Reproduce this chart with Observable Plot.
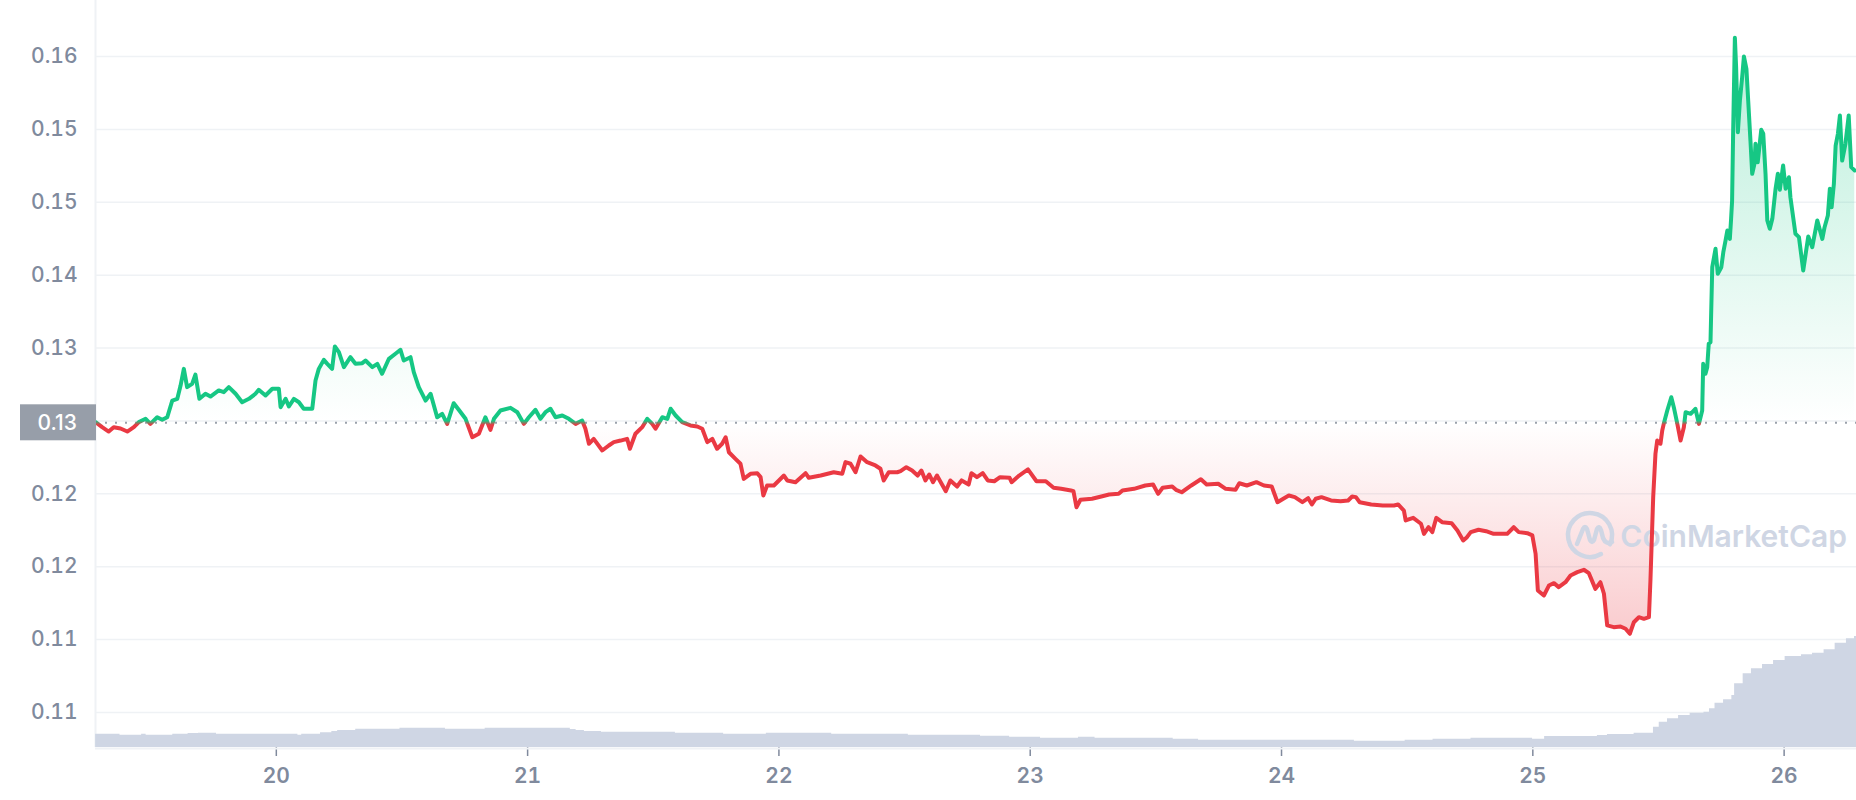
<!DOCTYPE html>
<html>
<head>
<meta charset="utf-8">
<script src="https://cdn.jsdelivr.net/npm/d3@7"></script>
<script src="https://cdn.jsdelivr.net/npm/@observablehq/plot@0.6"></script>
<style>
html, body { margin: 0; padding: 0; background: #fff; }
#chart { position: relative; width: 1856px; height: 800px; }
#chart svg { position: absolute; left: 0; top: 0; }
</style>
</head>
<body>
<div id="chart"></div>
<script>
// ---- data (day of month, price in USD) ----
const times = [19.281,19.307,19.333,19.353,19.380,19.407,19.433,19.453,19.480,19.499,19.526,19.546,19.566,19.586,19.606,19.619,19.632,19.645,19.665,19.678,19.694,19.718,19.738,19.771,19.791,19.811,19.838,19.864,19.891,19.917,19.930,19.957,19.984,20.010,20.017,20.037,20.050,20.070,20.090,20.109,20.143,20.156,20.169,20.189,20.203,20.222,20.233,20.249,20.269,20.295,20.315,20.342,20.355,20.382,20.402,20.421,20.448,20.474,20.494,20.507,20.534,20.547,20.567,20.594,20.614,20.640,20.660,20.680,20.706,20.726,20.753,20.780,20.806,20.832,20.852,20.866,20.892,20.932,20.959,20.985,21.005,21.031,21.051,21.071,21.091,21.111,21.138,21.164,21.191,21.217,21.230,21.244,21.263,21.297,21.323,21.343,21.370,21.396,21.407,21.429,21.456,21.476,21.496,21.509,21.536,21.556,21.569,21.589,21.615,21.648,21.675,21.695,21.715,21.735,21.754,21.774,21.788,21.801,21.827,21.847,21.860,21.887,21.914,21.927,21.938,21.953,21.980,22.020,22.033,22.066,22.106,22.119,22.166,22.218,22.252,22.265,22.285,22.305,22.325,22.351,22.384,22.404,22.417,22.437,22.471,22.484,22.507,22.530,22.552,22.567,22.583,22.598,22.613,22.629,22.664,22.682,22.709,22.727,22.755,22.766,22.788,22.811,22.831,22.857,22.880,22.918,22.926,22.956,22.991,23.025,23.062,23.093,23.123,23.162,23.172,23.184,23.200,23.246,23.283,23.314,23.352,23.367,23.413,23.458,23.489,23.509,23.527,23.565,23.580,23.603,23.641,23.679,23.702,23.748,23.778,23.817,23.832,23.862,23.900,23.930,23.961,23.984,24.007,24.029,24.053,24.083,24.106,24.121,24.136,24.159,24.197,24.235,24.265,24.281,24.296,24.311,24.357,24.403,24.448,24.464,24.487,24.494,24.524,24.555,24.567,24.585,24.600,24.616,24.639,24.677,24.700,24.723,24.738,24.753,24.784,24.814,24.844,24.871,24.898,24.924,24.944,24.978,24.998,25.011,25.020,25.044,25.064,25.084,25.103,25.130,25.150,25.177,25.203,25.223,25.249,25.269,25.283,25.296,25.322,25.349,25.369,25.386,25.402,25.422,25.442,25.462,25.468,25.479,25.488,25.495,25.508,25.515,25.521,25.535,25.551,25.561,25.575,25.588,25.601,25.608,25.628,25.647,25.661,25.674,25.678,25.687,25.694,25.700,25.707,25.714,25.727,25.736,25.750,25.758,25.767,25.774,25.784,25.789,25.793,25.797,25.804,25.809,25.816,25.824,25.833,25.840,25.850,25.857,25.866,25.873,25.882,25.886,25.895,25.909,25.917,25.926,25.933,25.943,25.953,25.966,25.975,25.983,25.996,26.006,26.019,26.025,26.045,26.059,26.076,26.096,26.112,26.132,26.152,26.161,26.174,26.182,26.189,26.198,26.205,26.214,26.222,26.231,26.244,26.257,26.267,26.281];
const prices = [0.12891,0.12853,0.12820,0.12853,0.12843,0.12820,0.12853,0.12891,0.12916,0.12878,0.12928,0.12909,0.12928,0.13054,0.13067,0.13167,0.13293,0.13155,0.13180,0.13250,0.13067,0.13105,0.13084,0.13130,0.13117,0.13155,0.13105,0.13041,0.13067,0.13105,0.13135,0.13092,0.13143,0.13143,0.13004,0.13067,0.13009,0.13067,0.13041,0.12992,0.12992,0.13205,0.13293,0.13361,0.13331,0.13293,0.13462,0.13419,0.13306,0.13381,0.13331,0.13336,0.13356,0.13306,0.13331,0.13256,0.13369,0.13407,0.13437,0.13356,0.13381,0.13268,0.13155,0.13054,0.13105,0.12928,0.12954,0.12878,0.13034,0.12984,0.12916,0.12777,0.12803,0.12928,0.12833,0.12916,0.12979,0.12999,0.12966,0.12878,0.12928,0.12984,0.12916,0.12966,0.12992,0.12928,0.12941,0.12916,0.12878,0.12903,0.12841,0.12728,0.12765,0.12677,0.12715,0.12740,0.12752,0.12765,0.12690,0.12803,0.12853,0.12916,0.12878,0.12841,0.12928,0.12916,0.12992,0.12941,0.12891,0.12866,0.12858,0.12841,0.12740,0.12765,0.12690,0.12728,0.12777,0.12664,0.12614,0.12577,0.12463,0.12501,0.12506,0.12476,0.12337,0.12413,0.12413,0.12488,0.12451,0.12438,0.12506,0.12471,0.12488,0.12513,0.12501,0.12589,0.12577,0.12513,0.12632,0.12589,0.12564,0.12539,0.12451,0.12513,0.12513,0.12521,0.12551,0.12526,0.12488,0.12526,0.12451,0.12496,0.12438,0.12488,0.12370,0.12451,0.12405,0.12451,0.12420,0.12506,0.12476,0.12506,0.12451,0.12445,0.12476,0.12471,0.12438,0.12488,0.12534,0.12445,0.12445,0.12396,0.12388,0.12375,0.12370,0.12249,0.12305,0.12313,0.12330,0.12345,0.12350,0.12375,0.12388,0.12413,0.12420,0.12350,0.12396,0.12405,0.12380,0.12362,0.12413,0.12460,0.12420,0.12426,0.12388,0.12380,0.12430,0.12413,0.12438,0.12413,0.12405,0.12287,0.12313,0.12337,0.12325,0.12287,0.12317,0.12270,0.12313,0.12325,0.12300,0.12294,0.12300,0.12330,0.12325,0.12287,0.12270,0.12262,0.12262,0.12270,0.12224,0.12149,0.12169,0.12124,0.12048,0.12098,0.12061,0.12169,0.12136,0.12128,0.12073,0.11998,0.12023,0.12061,0.12079,0.12068,0.12048,0.12048,0.12048,0.12098,0.12061,0.12053,0.12036,0.11898,0.11621,0.11583,0.11658,0.11676,0.11646,0.11683,0.11734,0.11759,0.11777,0.11751,0.11633,0.11683,0.11596,0.11357,0.11344,0.11349,0.11332,0.11294,0.11381,0.11419,0.11407,0.11419,0.11696,0.12325,0.12652,0.12752,0.12728,0.12828,0.12878,0.12979,0.13079,0.13004,0.12878,0.12752,0.12853,0.12966,0.12954,0.12992,0.12878,0.12979,0.13331,0.13256,0.13306,0.13482,0.13494,0.14060,0.14199,0.14010,0.14060,0.14173,0.14262,0.14337,0.14274,0.14425,0.14563,0.15067,0.15791,0.15569,0.15079,0.15318,0.15494,0.15650,0.15557,0.15318,0.15016,0.14765,0.14840,0.14991,0.14852,0.15097,0.15067,0.14765,0.14413,0.14350,0.14425,0.14652,0.14765,0.14644,0.14828,0.14652,0.14739,0.14588,0.14312,0.14287,0.14035,0.14292,0.14211,0.14413,0.14274,0.14362,0.14450,0.14652,0.14513,0.14689,0.14978,0.15067,0.15205,0.14865,0.14991,0.15205,0.14815,0.14790];

// 24h volume (millions), step series
const volTimes = [19.281,19.378,19.464,19.482,19.588,19.649,19.690,19.762,20.086,20.101,20.176,20.221,20.244,20.316,20.492,20.673,20.831,21.170,21.193,21.226,21.294,21.588,21.780,21.950,22.210,22.515,22.802,22.918,23.041,23.192,23.258,23.569,23.670,24.290,24.492,24.603,24.754,24.999,25.047,25.257,25.297,25.403,25.480,25.503,25.536,25.580,25.626,25.681,25.703,25.725,25.759,25.792,25.803,25.837,25.870,25.914,25.958,26.004,26.069,26.113,26.159,26.203,26.248,26.280,26.288];
const volumes = [6.65,6.15,6.65,6.15,6.65,7.0,7.15,6.65,6.15,6.65,7.35,8.0,8.5,9.15,9.65,9.15,9.65,9.0,8.5,8.0,7.65,7.15,6.65,7.15,6.65,6.15,5.65,5.15,4.65,5.15,4.65,4.15,3.65,3.15,3.65,4.15,4.65,4.15,5.5,6.0,6.5,7.15,10.15,12.65,14.35,16.0,17.15,17.65,19.35,22.15,23.85,26.0,31.85,36.85,39.35,41.5,43.5,45.5,46.35,47.15,48.85,52.15,54.35,55.5,55.5];

const openPrice = 0.12886;
const xDomain = [19.2805, 26.288];
const yDomain = [0.104359, 0.160726];
const volumeDomain = [0, 373.5];
const xTicks = [20, 21, 22, 23, 24, 25, 26];
const xTickLabels = ["20", "21", "22", "23", "24", "25", "26"];
const yTicks = [0.107, 0.1125, 0.118, 0.1235, 0.129, 0.1345, 0.14, 0.1455, 0.151, 0.1565];
const yTickLabels = ["0.11", "0.11", "0.12", "0.12", "0.13", "0.13", "0.14", "0.15", "0.15", "0.16"];
const watermark = "CoinMarketCap";

const GREEN = "#16c784", RED = "#ea3943", GRID = "#eff2f5", GRAY = "#808a9d";

const priceData = times.map((t, i) => ({t, p: prices[i]}));
const volData = volTimes.map((t, i) => ({t, v: volumes[i]}));
// the tick under the reference-price badge is covered by the badge; label it only there
const labelTicks = yTicks.filter(v => Math.abs(v - openPrice) > 0.002);

const W = 1856, H = 800;
const common = {
  width: W, height: H,
  marginLeft: 95, marginRight: 0, marginTop: 0, marginBottom: 53,
  style: {fontFamily: "Inter, sans-serif", fontSize: "21px", color: GRAY, background: "transparent"}
};

const main = Plot.plot({
  ...common,
  style: {...common.style, background: "#fff"},
  x: {domain: xDomain, label: null},
  y: {domain: yDomain, label: null},
  marks: [
    Plot.ruleY(yTicks, {stroke: GRID, strokeWidth: 1.5}),
    Plot.ruleX([xDomain[0]], {stroke: GRID, strokeWidth: 2}),
    Plot.areaY(priceData, {x: "t", y1: openPrice, y2: d => Math.max(d.p, openPrice), fill: "url(#greenFill)"}),
    Plot.areaY(priceData, {x: "t", y1: openPrice, y2: d => Math.min(d.p, openPrice), fill: "url(#redFill)"}),
    Plot.ruleY([openPrice], {stroke: "#9aa1ab", strokeWidth: 2, strokeDasharray: "2,8"}),
    Plot.line(priceData, {x: "t", y: "p", stroke: "url(#lineGrad)", strokeWidth: 4, strokeLinejoin: "round", strokeLinecap: "round"}),
    Plot.axisY({ticks: labelTicks, tickFormat: d => yTickLabels[yTicks.indexOf(d)], tickSize: 0, tickPadding: 18, fontSize: 21, fontWeight: 500, color: GRAY, label: null}),
    Plot.axisX({ticks: xTicks, tickFormat: d => xTickLabels[xTicks.indexOf(d)], tickSize: 9, tickPadding: 12, fontSize: 21, fontWeight: 600, color: GRAY, strokeWidth: 1.5, label: null})
  ]
});

const vol = Plot.plot({
  ...common,
  x: {domain: xDomain, axis: null},
  y: {domain: volumeDomain, axis: null},
  marks: [
    Plot.areaY(volData, {x: "t", y: "v", curve: "step-after", fill: "#cfd6e4"}),
    Plot.ruleY([0], {stroke: GRID, strokeWidth: 2, dy: 1})
  ]
});
vol.style.pointerEvents = "none";

document.getElementById("chart").append(main, vol);

// gradients defined from the y scale
const ys = main.scale("y");
const yRef = ys.apply(openPrice);
const yTop = ys.apply(d3.max(prices));
const yBot = ys.apply(d3.min(prices));
const svg = d3.select(main);
const defs = svg.insert("defs", ":first-child");
const lg = defs.append("linearGradient").attr("id", "lineGrad").attr("gradientUnits", "userSpaceOnUse")
  .attr("x1", 0).attr("x2", 0).attr("y1", 0).attr("y2", H);
lg.append("stop").attr("offset", (yRef - 2) / H).attr("stop-color", GREEN);
lg.append("stop").attr("offset", (yRef + 2) / H).attr("stop-color", RED);
const gf = defs.append("linearGradient").attr("id", "greenFill").attr("gradientUnits", "userSpaceOnUse")
  .attr("x1", 0).attr("x2", 0).attr("y1", yTop).attr("y2", yRef);
gf.append("stop").attr("offset", 0).attr("stop-color", GREEN).attr("stop-opacity", 0.3);
gf.append("stop").attr("offset", 1).attr("stop-color", GREEN).attr("stop-opacity", 0.0);
const rf = defs.append("linearGradient").attr("id", "redFill").attr("gradientUnits", "userSpaceOnUse")
  .attr("x1", 0).attr("x2", 0).attr("y1", yRef).attr("y2", yBot);
rf.append("stop").attr("offset", 0).attr("stop-color", RED).attr("stop-opacity", 0.0);
rf.append("stop").attr("offset", 1).attr("stop-color", RED).attr("stop-opacity", 0.26);

// watermark (below the price line)
const wm = svg.insert("g", "g[aria-label='line']").attr("fill", "none");
const wmColor = "#cfd6e4";
const lx = W - 266, ly = 535, r = 22;
const a1 = 25 * Math.PI / 180, a2 = 60 * Math.PI / 180;
wm.append("path")
  .attr("d", `M ${lx + r * Math.cos(a1)} ${ly + r * Math.sin(a1)} A ${r} ${r} 0 1 0 ${lx + r * Math.cos(a2)} ${ly + r * Math.sin(a2)}`)
  .attr("stroke", wmColor).attr("stroke-width", 4.5).attr("stroke-linecap", "round");
wm.append("path")
  .attr("d", `M ${lx - 13} ${ly + 9} L ${lx - 7} ${ly - 6} Q ${lx - 5} ${ly - 10} ${lx - 3} ${ly - 6} L ${lx} ${ly + 5} Q ${lx + 2} ${ly + 9} ${lx + 4} ${ly + 5} L ${lx + 7} ${ly - 6} Q ${lx + 9} ${ly - 10} ${lx + 11} ${ly - 5} L ${lx + 13} ${ly + 3} Q ${lx + 16} ${ly + 10} ${lx + 22} ${ly + 7}`)
  .attr("stroke", wmColor).attr("stroke-width", 4.5).attr("stroke-linecap", "round").attr("stroke-linejoin", "round");
wm.append("text").attr("x", W - 9).attr("y", 547).attr("text-anchor", "end")
  .attr("fill", wmColor).style("font", "600 30px Inter, sans-serif").text(watermark);

// reference price badge
const badge = svg.append("g");
badge.append("rect").attr("x", 20).attr("y", yRef - 18).attr("width", 76).attr("height", 36).attr("fill", "#979ea9");
badge.append("text").attr("x", 77).attr("y", yRef).attr("dy", "0.36em").attr("text-anchor", "end")
  .attr("fill", "#fff").style("font", "500 21px Inter, sans-serif").text(d3.format(".2f")(openPrice));
</script>
</body>
</html>
